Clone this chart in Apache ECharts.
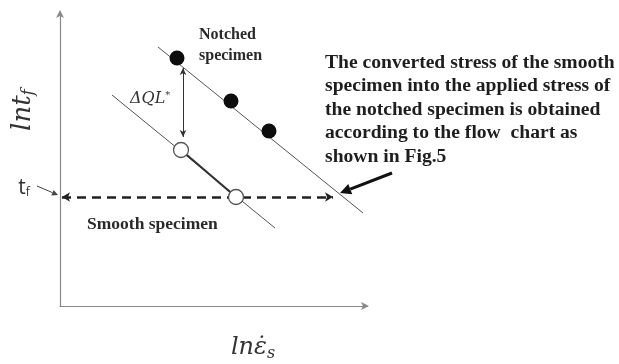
<!DOCTYPE html>
<html>
<head>
<meta charset="utf-8">
<script src="https://cdn.jsdelivr.net/npm/echarts@6/dist/echarts.min.js"></script>
<style>
  html, body { margin: 0; padding: 0; background: #fff; }
  #chart { width: 619px; height: 364px; }
</style>
</head>
<body>
<div id="chart"></div>
<script>
// Schematic of ln(t_f) against ln(strain rate): notched vs smooth specimens.
// Units are arbitrary schematic units on both axes.
const xRange = [0, 307];
const yRange = [0, 294];

// Notched specimen: trend line and measured (filled) points
const notchedLine = [[98, 259], [303, 93]];
const notchedPoints = [[117, 248], [171, 205], [209, 175]];

// Smooth specimen: trend line and converted (open) points
const smoothLine = [[52, 211], [215, 78]];
const smoothPoints = [[121, 156], [176, 109]];

// Rupture-time level t_f and the shift ΔQL* between the two lines
const tfLevel = 109;
const tfSpan = [2, 273];
const shiftX = 123;
const shiftSpan = [169, 238];

// Pointer from the note to the notched line, and from the t_f label to the axis
const notePointer = [[332, 133], [280, 113]];
const tfPointer = [[-23, 120], [-2, 111]];

const chart = echarts.init(document.getElementById('chart'), null, { renderer: 'canvas' });

const serifBold = '"Liberation Serif", "Times New Roman", serif';
const mathFont = '"DejaVu Serif", serif';

const option = {
  animation: false,
  backgroundColor: '#fff',
  grid: { left: 60, right: 252, top: 12, bottom: 58, containLabel: false },
  xAxis: {
    type: 'value', min: xRange[0], max: xRange[1],
    axisLine: { show: true, onZero: false, symbol: ['none', 'arrow'], symbolSize: [6, 8], symbolOffset: [0, 2],
      lineStyle: { color: '#888', width: 1.2 } },
    axisTick: { show: false }, axisLabel: { show: false }, splitLine: { show: false }
  },
  yAxis: {
    type: 'value', min: yRange[0], max: yRange[1],
    axisLine: { show: true, onZero: false, symbol: ['none', 'arrow'], symbolSize: [6, 8], symbolOffset: [0, 2],
      lineStyle: { color: '#888', width: 1.2 } },
    axisTick: { show: false }, axisLabel: { show: false }, splitLine: { show: false }
  },
  series: [
    {
      name: 'notched line', type: 'line', data: notchedLine, symbol: 'none', silent: true,
      lineStyle: { color: '#555', width: 1 }, z: 2
    },
    {
      name: 'smooth line', type: 'line', data: smoothLine, symbol: 'none', silent: true,
      lineStyle: { color: '#555', width: 1 }, z: 2
    },
    {
      name: 'conversion', type: 'line', data: smoothPoints, symbol: 'none', silent: true,
      lineStyle: { color: '#333', width: 2.2 }, z: 3
    },
    {
      name: 'notched', type: 'scatter', data: notchedPoints, symbolSize: 15, silent: true,
      itemStyle: { color: '#0d0d0d', opacity: 1 }, z: 5
    },
    {
      name: 'smooth', type: 'scatter', data: smoothPoints, symbolSize: 15, silent: true,
      itemStyle: { color: '#fff', borderColor: '#555', borderWidth: 1.3, opacity: 1 }, z: 5
    },
    {
      name: 'guides', type: 'line', data: [], clip: false, silent: true, z: 4,
      markLine: {
        silent: true, animation: false, label: { show: false },
        symbol: ['arrow', 'arrow'],
        data: [
          [
            { coord: [tfSpan[0], tfLevel], symbol: 'arrow', symbolSize: [7, 8],
              lineStyle: { color: '#222', width: 2.5, type: [9, 6] } },
            { coord: [tfSpan[1], tfLevel], symbol: 'arrow', symbolSize: [7, 8] }
          ],
          [
            { coord: [shiftX, shiftSpan[0]], symbol: 'arrow', symbolSize: [5, 7],
              lineStyle: { color: '#333', width: 1, type: 'solid' } },
            { coord: [shiftX, shiftSpan[1]], symbol: 'arrow', symbolSize: [5, 7] }
          ]
        ]
      }
    }
  ],
  graphic: [
    {
      type: 'text', left: 199, top: 24,
      style: { text: 'Notched\nspecimen', font: 'bold 16px ' + serifBold, fill: '#2a2a2a', lineHeight: 21 }
    },
    {
      type: 'text', left: 87, top: 215,
      style: { text: 'Smooth specimen', font: 'bold 17.5px ' + serifBold, fill: '#2a2a2a' }
    },
    {
      type: 'text', left: 325, top: 51,
      style: {
        text: 'The converted stress of the smooth\nspecimen into the applied stress of\nthe notched specimen is obtained\naccording to the flow  chart as\nshown in Fig.5',
        font: 'bold 19.6px ' + serifBold, fill: '#1e1e1e', lineHeight: 23.5
      }
    },
    {
      type: 'text', left: 130, top: 90,
      style: {
        text: '{a|ΔQL}{b|*}',
        rich: {
          a: { fontFamily: mathFont, fontStyle: 'italic', fontSize: 16, fill: '#333' },
          b: { fontFamily: mathFont, fontSize: 10, fill: '#333', verticalAlign: 'top', padding: [0, 0, 8, 0] }
        }
      }
    },
    {
      type: 'text', x: 24, y: 188,
      style: {
        text: '{a|t}{b|f}', align: 'center', verticalAlign: 'middle',
        rich: {
          a: { fontFamily: '"Open Sans", sans-serif', fontSize: 21, fill: '#333' },
          b: { fontFamily: '"Open Sans", sans-serif', fontSize: 12, fill: '#333', padding: [10, 0, 0, 0] }
        }
      }
    },
    {
      type: 'text', x: 23, y: 110, rotation: Math.PI / 2,
      style: {
        text: '{a|lnt}{b|f}', align: 'center', verticalAlign: 'middle',
        rich: {
          a: { fontFamily: mathFont, fontStyle: 'italic', fontSize: 26, fill: '#333' },
          b: { fontFamily: mathFont, fontStyle: 'italic', fontSize: 17, fill: '#333', padding: [12, 0, 0, 0] }
        }
      }
    },
    {
      type: 'text', x: 253, y: 348,
      style: {
        text: '{a|ln\u03B5\u0307}{b|s}', align: 'center', verticalAlign: 'middle',
        rich: {
          a: { fontFamily: mathFont, fontStyle: 'italic', fontSize: 24, fill: '#333' },
          b: { fontFamily: mathFont, fontStyle: 'italic', fontSize: 16, fill: '#333', padding: [12, 0, 0, 0] }
        }
      }
    }
  ]
};

chart.setOption(option);

// Pointer arrows that start outside the plotting area: placed through the axes' scales
function pointerArrow(id, pts, color, width, headLen, headHalf) {
  const p0 = chart.convertToPixel({ gridIndex: 0 }, pts[0]);
  const p1 = chart.convertToPixel({ gridIndex: 0 }, pts[1]);
  const dx = p1[0] - p0[0], dy = p1[1] - p0[1];
  const len = Math.hypot(dx, dy);
  const ux = dx / len, uy = dy / len;
  const bx = p1[0] - ux * headLen, by = p1[1] - uy * headLen;
  return [
    { type: 'line', id: id + '-shaft', silent: true, z: 10,
      shape: { x1: p0[0], y1: p0[1], x2: bx, y2: by },
      style: { stroke: color, lineWidth: width } },
    { type: 'polygon', id: id + '-head', silent: true, z: 10,
      shape: { points: [[p1[0], p1[1]], [bx - uy * headHalf, by + ux * headHalf], [bx + uy * headHalf, by - ux * headHalf]] },
      style: { fill: color } }
  ];
}

chart.setOption({
  graphic: [
    ...pointerArrow('note', notePointer, '#111', 3, 11, 5.5),
    ...pointerArrow('tf', tfPointer, '#444', 1, 6, 3)
  ]
});
</script>
</body>
</html>
